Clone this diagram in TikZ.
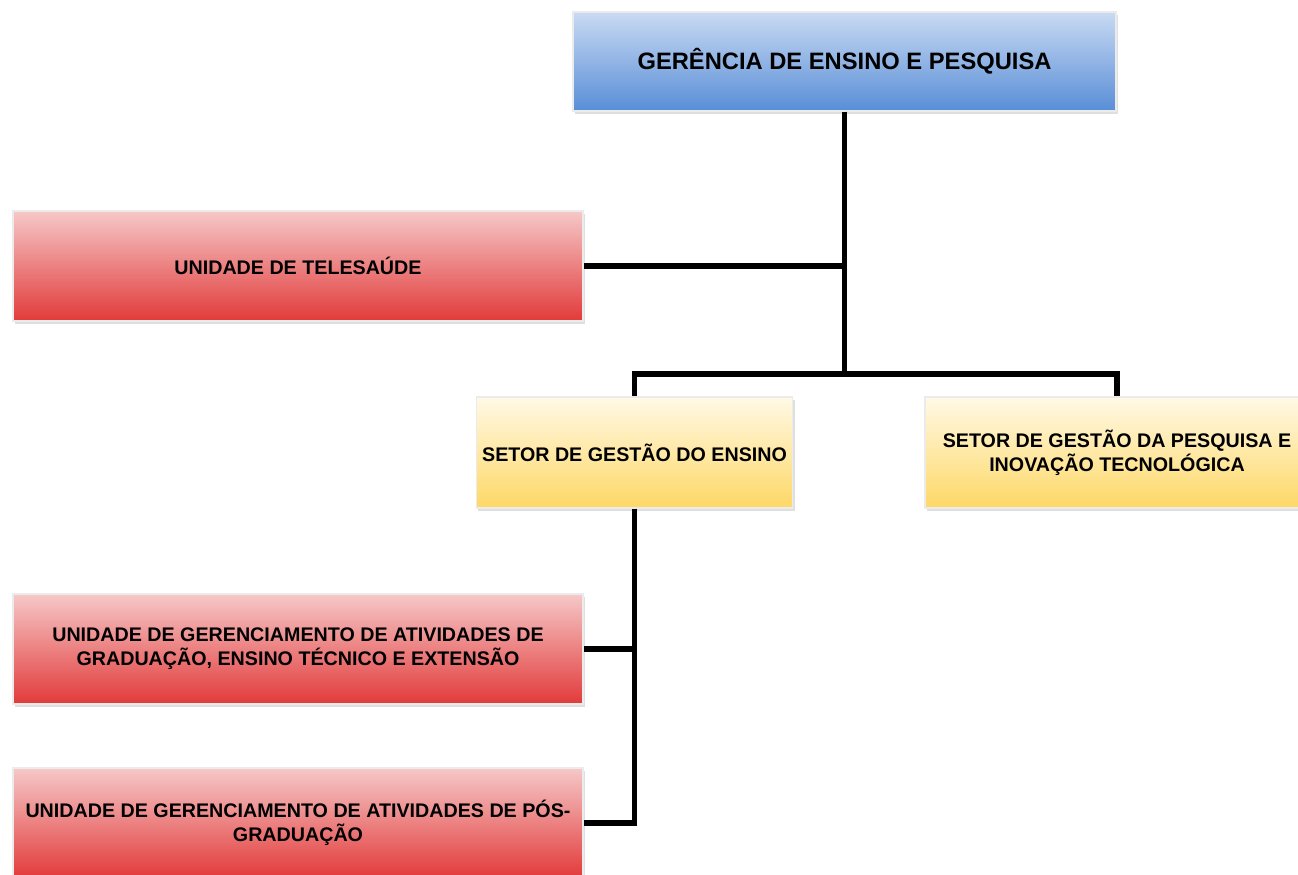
\documentclass[tikz,border=0pt]{standalone}
\usepackage{fontspec}
\setmainfont{Liberation Sans}
\usepackage{tikz}
\usetikzlibrary{shapes,arrows}
\usetikzlibrary{shadows}
\definecolor{azultopo}{RGB}{201, 218, 243}
\definecolor{azulbase}{RGB}{88, 142, 215}
\definecolor{vermtopo}{RGB}{246, 200, 200}
\definecolor{vermbase}{RGB}{226, 58, 58}
\definecolor{amartopo}{RGB}{255, 249, 230}
\definecolor{amarbase}{RGB}{254, 216, 102}

\begin{document}
\begin{tikzpicture}[
    caixa/.style={rectangle, draw=black!8, line width=.6pt, align=center,
        font=\bfseries\fontsize{11.2}{13.6}\selectfont,
        drop shadow={opacity=.25, shadow xshift=.04, shadow yshift=-.05}},
    gerencia/.style={caixa, top color=azultopo, bottom color=azulbase,
        minimum width=10.86cm, minimum height=1.98cm,
        font=\bfseries\fontsize{13.5}{15}\selectfont},
    unidade/.style={caixa, top color=vermtopo, bottom color=vermbase,
        minimum width=11.4cm, minimum height=2.2cm},
    setor/.style={caixa, top color=amartopo, bottom color=amarbase,
        minimum height=2.22cm},
    ligacao/.style={line width=3pt, black}]
        \useasboundingbox (0,0) rectangle (25.96,-17.48);
        \node [gerencia] (ger) at (16.89,-1.23) {GERÊNCIA DE ENSINO E PESQUISA};
        \node [unidade] (tele) at (5.96,-5.32) {UNIDADE DE TELESAÚDE};
        \node [setor, minimum width=6.26cm] (ensino) at (12.69,-9.05) {SETOR DE GESTÃO DO ENSINO};
        \node [setor, minimum width=7.68cm] (pesq) at (22.34,-9.05) {SETOR DE GESTÃO DA PESQUISA E\\INOVAÇÃO TECNOLÓGICA};
        \node [unidade] (grad) at (5.96,-12.98) {UNIDADE DE GERENCIAMENTO DE ATIVIDADES DE\\GRADUAÇÃO, ENSINO TÉCNICO E EXTENSÃO};
        \node [unidade] (pos) at (5.96,-16.46) {UNIDADE DE GERENCIAMENTO DE ATIVIDADES DE PÓS-\\GRADUAÇÃO};
        \coordinate (ramo) at (16.89,-7.48);
        % ligacoes
        \draw [ligacao] (ger.south) -- (ramo);
        \draw [ligacao] (ger.south) |- (tele.east);
        \draw [ligacao] (ensino.north) |- (ramo) -| (pesq.north);
        \draw [ligacao] (ensino.south) |- (grad.east);
        \draw [ligacao] (ensino.south) |- (pos.east);
    \end{tikzpicture}
\end{document}
